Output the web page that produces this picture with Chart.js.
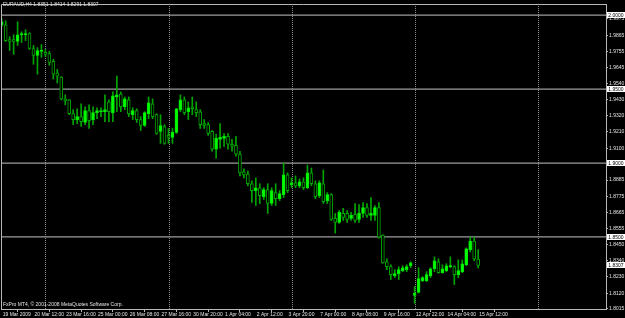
<!DOCTYPE html>
<html><head><meta charset="utf-8">
<script src="https://cdn.jsdelivr.net/npm/chart.js@4.4.1/dist/chart.umd.min.js"></script>
<style>html,body{margin:0;padding:0;background:#000;overflow:hidden}canvas{display:block}</style>
</head><body><canvas id="c" width="625" height="318"></canvas>
<script>
const symbolTitle = "EURAUD,H4 1.8351 1.8414 1.8291 1.8307";
const copyright = "FxPro MT4, \u00A9 2001-2008 MetaQuotes Software Corp.";

const opens = [1.9935,1.9935,1.9835,1.9835,1.9822,1.9868,1.9868,1.9875,1.9775,1.9728,
1.9755,1.9748,1.9741,1.9688,1.9608,1.9581,1.9434,1.9427,1.9334,1.9294,
1.9314,1.9274,1.9354,1.9294,1.9341,1.9347,1.9347,1.9414,1.9341,1.9447,
1.9467,1.9381,1.9427,1.9327,1.9354,1.9294,1.9254,1.9334,1.9401,1.9327,
1.9214,1.9247,1.9187,1.9174,1.9207,1.9361,1.9427,1.9347,1.9381,1.9361,
1.9347,1.9267,1.9260,1.9214,1.9093,1.9160,1.9167,1.9180,1.9127,1.9120,
1.9060,1.8940,1.8926,1.8860,1.8813,1.8833,1.8773,1.8820,1.8726,1.8800,
1.8759,1.8786,1.8920,1.8853,1.8866,1.8846,1.8873,1.8833,1.8933,1.8860,
1.8780,1.8860,1.8746,1.8786,1.8626,1.8599,1.8659,1.8659,1.8626,1.8653,
1.8619,1.8659,1.8699,1.8646,1.8646,1.8699,1.8512,1.8332,1.8299,1.8238,
1.8252,1.8272,1.8279,1.8305,1.8105,1.8125,1.8205,1.8205,1.8238,1.8285,
1.8332,1.8258,1.8272,1.8299,1.8299,1.8245,1.8265,1.8312,1.8412,1.8472,
1.8351];
const highs = [1.9975,1.9962,1.9855,1.9868,1.9955,1.9888,1.9902,1.9882,1.9795,1.9781,
1.9801,1.9768,1.9755,1.9701,1.9634,1.9585,1.9461,1.9430,1.9361,1.9367,
1.9401,1.9381,1.9394,1.9381,1.9374,1.9374,1.9461,1.9427,1.9481,1.9588,
1.9481,1.9447,1.9447,1.9374,1.9367,1.9314,1.9347,1.9447,1.9434,1.9334,
1.9327,1.9260,1.9234,1.9234,1.9370,1.9461,1.9447,1.9414,1.9447,1.9414,
1.9361,1.9294,1.9274,1.9220,1.9194,1.9267,1.9200,1.9200,1.9160,1.9180,
1.9080,1.8960,1.8946,1.8880,1.8900,1.8860,1.8833,1.8860,1.8833,1.8860,
1.8813,1.9000,1.8933,1.8900,1.8913,1.8893,1.8900,1.8986,1.8966,1.8880,
1.8880,1.8953,1.8800,1.8793,1.8659,1.8679,1.8693,1.8679,1.8666,1.8726,
1.8719,1.8733,1.8726,1.8766,1.8713,1.8733,1.8515,1.8352,1.8312,1.8279,
1.8299,1.8305,1.8312,1.8332,1.8165,1.8292,1.8232,1.8265,1.8292,1.8365,
1.8352,1.8312,1.8319,1.8365,1.8305,1.8345,1.8345,1.8426,1.8499,1.8499,
1.8414];
const lows = [1.9922,1.9822,1.9761,1.9735,1.9795,1.9815,1.9828,1.9768,1.9668,1.9601,
1.9715,1.9721,1.9661,1.9568,1.9541,1.9427,1.9394,1.9327,1.9260,1.9267,
1.9247,1.9260,1.9234,1.9260,1.9300,1.9314,1.9280,1.9280,1.9280,1.9347,
1.9347,1.9361,1.9314,1.9294,1.9274,1.9220,1.9247,1.9300,1.9300,1.9194,
1.9133,1.9127,1.9133,1.9133,1.9200,1.9347,1.9327,1.9294,1.9327,1.9314,
1.9234,1.9234,1.9187,1.9080,1.9033,1.9100,1.9113,1.9093,1.9080,1.9047,
1.8913,1.8900,1.8846,1.8733,1.8713,1.8726,1.8753,1.8659,1.8713,1.8713,
1.8746,1.8766,1.8800,1.8833,1.8833,1.8833,1.8820,1.8826,1.8846,1.8759,
1.8766,1.8726,1.8726,1.8612,1.8526,1.8592,1.8612,1.8599,1.8612,1.8599,
1.8599,1.8632,1.8632,1.8612,1.8612,1.8492,1.8322,1.8279,1.8212,1.8225,
1.8212,1.8265,1.8265,1.8292,1.8051,1.8122,1.8198,1.8198,1.8225,1.8265,
1.8255,1.8255,1.8265,1.8292,1.8178,1.8225,1.8258,1.8305,1.8399,1.8339,
1.8291];
const closes = [1.9955,1.9828,1.9822,1.9822,1.9868,1.9875,1.9875,1.9775,1.9728,1.9761,
1.9761,1.9735,1.9681,1.9601,1.9588,1.9434,1.9421,1.9334,1.9294,1.9314,
1.9280,1.9354,1.9287,1.9341,1.9354,1.9354,1.9361,1.9347,1.9454,1.9461,
1.9381,1.9434,1.9334,1.9354,1.9294,1.9254,1.9341,1.9407,1.9314,1.9200,
1.9254,1.9133,1.9174,1.9207,1.9367,1.9427,1.9341,1.9374,1.9367,1.9341,
1.9260,1.9254,1.9200,1.9093,1.9167,1.9174,1.9180,1.9127,1.9113,1.9060,
1.8933,1.8920,1.8860,1.8813,1.8833,1.8780,1.8820,1.8726,1.8813,1.8759,
1.8793,1.8920,1.8813,1.8866,1.8846,1.8873,1.8833,1.8933,1.8860,1.8773,
1.8866,1.8739,1.8786,1.8619,1.8599,1.8666,1.8632,1.8619,1.8646,1.8612,
1.8659,1.8699,1.8646,1.8659,1.8699,1.8499,1.8325,1.8299,1.8245,1.8252,
1.8279,1.8292,1.8299,1.8325,1.8118,1.8218,1.8225,1.8245,1.8285,1.8339,
1.8258,1.8285,1.8305,1.8305,1.8245,1.8272,1.8319,1.8419,1.8472,1.8352,
1.8307];

const xTickLabels = ["19 Mar 2009","20 Mar 12:00","23 Mar 16:00","25 Mar 00:00","26 Mar 08:00",
"27 Mar 16:00","30 Mar 20:00","1 Apr 04:00","2 Apr 12:00","3 Apr 20:00","7 Apr 00:00",
"8 Apr 08:00","9 Apr 16:00","12 Apr 22:00","14 Apr 04:00","15 Apr 12:00"];
const barsPerXTick = 8;
const yTickLabels = ["1.9975","1.9865","1.9755","1.9645","1.9540","1.9430","1.9320","1.9210","1.9100",
"1.8885","1.8775","1.8665","1.8555","1.8450","1.8340","1.8230","1.8120","1.8015"];
const levelLines = [2.0000, 1.9500, 1.9000, 1.8500];
const lastPrice = 1.8307;

// ---- rendering ----
const LIME = '#00ff00', GREEN = '#00a400', AXIS = '#b8b8b8', TXT = '#e4e4e4';
const FONT = 'Liberation Sans, Arial, sans-serif';
const X_MIN = -0.18, X_MAX = 152.2;

const wickData = highs.map((h, i) => ({x: i, y: [lows[i], h]}));
const bodyData = opens.map((o, i) => ({x: i, y: [Math.min(o, closes[i]), Math.max(o, closes[i])]}));
const bodyFill = opens.map((o, i) => closes[i] >= o ? LIME : '#000000');
const bodyBorder = opens.map((o, i) => closes[i] >= o ? '#00e600' : GREEN);

const levelSets = levelLines.map(v => ({
  type: 'line', data: [{x: X_MIN, y: v}, {x: X_MAX, y: v}],
  borderColor: '#9c9c9c', borderWidth: 1.3, pointRadius: 0, order: 5, clip: false
}));

const mtPlugin = {
  id: 'mt',
  beforeDraw(chart) {
    const c = chart.ctx;
    c.save(); c.fillStyle = '#000'; c.fillRect(0, 0, chart.width, chart.height); c.restore();
  },
  beforeDatasetsDraw(chart) {
    const c = chart.ctx, a = chart.chartArea, xs = chart.scales.x;
    c.save();
    c.strokeStyle = '#8c8c8c'; c.lineWidth = 1; c.setLineDash([1, 1]);
    for (let k = 0; k < 5; k++) {
      const px = Math.round(xs.getPixelForValue(10.98 + 31.03 * k)) + 0.5;
      c.beginPath(); c.moveTo(px, a.top); c.lineTo(px, a.bottom); c.stroke();
    }
    c.restore();
  },
  afterDraw(chart) {
    const c = chart.ctx, a = chart.chartArea, ys = chart.scales.y;
    c.save();
    c.strokeStyle = AXIS; c.lineWidth = 1;
    c.beginPath(); c.moveTo(a.left + 0.5, a.bottom); c.lineTo(a.left + 0.5, a.top + 0.5); c.lineTo(a.right, a.top + 0.5); c.stroke();
    c.fillStyle = TXT; c.font = '5px ' + FONT; c.textBaseline = 'middle'; c.textAlign = 'left';
    c.fillText(symbolTitle, 3, 5);
    c.fillText(copyright, 3, 305);
    [...levelLines, lastPrice].forEach(v => {
      const py = Math.round(ys.getPixelForValue(v));
      c.fillStyle = '#ffffff'; c.fillRect(607, py - 3, 18, 6);
      c.fillStyle = '#000000'; c.textAlign = 'center';
      c.fillText(v.toFixed(4), 616, py + 0.3);
    });
    c.restore();
  }
};

new Chart(document.getElementById('c'), {
  type: 'bar',
  data: {
    datasets: [
      ...levelSets,
      {data: wickData, backgroundColor: GREEN, barThickness: 1, grouped: false, order: 2, borderWidth: 0},
      {data: bodyData, backgroundColor: bodyFill, borderColor: bodyBorder, borderWidth: 1,
       borderSkipped: false, barThickness: 3, grouped: false, order: 1, minBarLength: 1}
    ]
  },
  options: {
    responsive: false, animation: false, devicePixelRatio: 1,
    layout: {padding: {left: 1, top: 1, right: 0, bottom: 0}},
    plugins: {legend: {display: false}, tooltip: {enabled: false}},
    scales: {
      x: {
        type: 'linear', min: X_MIN, max: X_MAX, offset: false,
        afterBuildTicks: s => { s.ticks = xTickLabels.map((_, k) => ({value: k * barsPerXTick})); },
        afterFit: s => { s.height = 9; },
        ticks: {
          autoSkip: false, maxRotation: 0, minRotation: 0, align: 'start', padding: 0, labelOffset: 1,
          color: TXT, font: {family: FONT, size: 5},
          callback: (v, i) => xTickLabels[i]
        },
        grid: {drawOnChartArea: false, drawTicks: true, tickLength: 3, color: AXIS},
        border: {display: true, color: AXIS, width: 1}
      },
      y: {
        type: 'linear', position: 'right', min: 1.80127, max: 2.00757,
        afterBuildTicks: s => { s.ticks = yTickLabels.map(t => ({value: parseFloat(t)})); },
        afterFit: s => { s.width = 19; },
        ticks: {
          padding: 1, color: TXT, font: {family: FONT, size: 5},
          callback: (v, i) => yTickLabels[i]
        },
        grid: {drawOnChartArea: false, drawTicks: true, tickLength: 2, color: AXIS},
        border: {display: true, color: AXIS, width: 1}
      }
    }
  },
  plugins: [mtPlugin]
});
</script>
</body></html>
